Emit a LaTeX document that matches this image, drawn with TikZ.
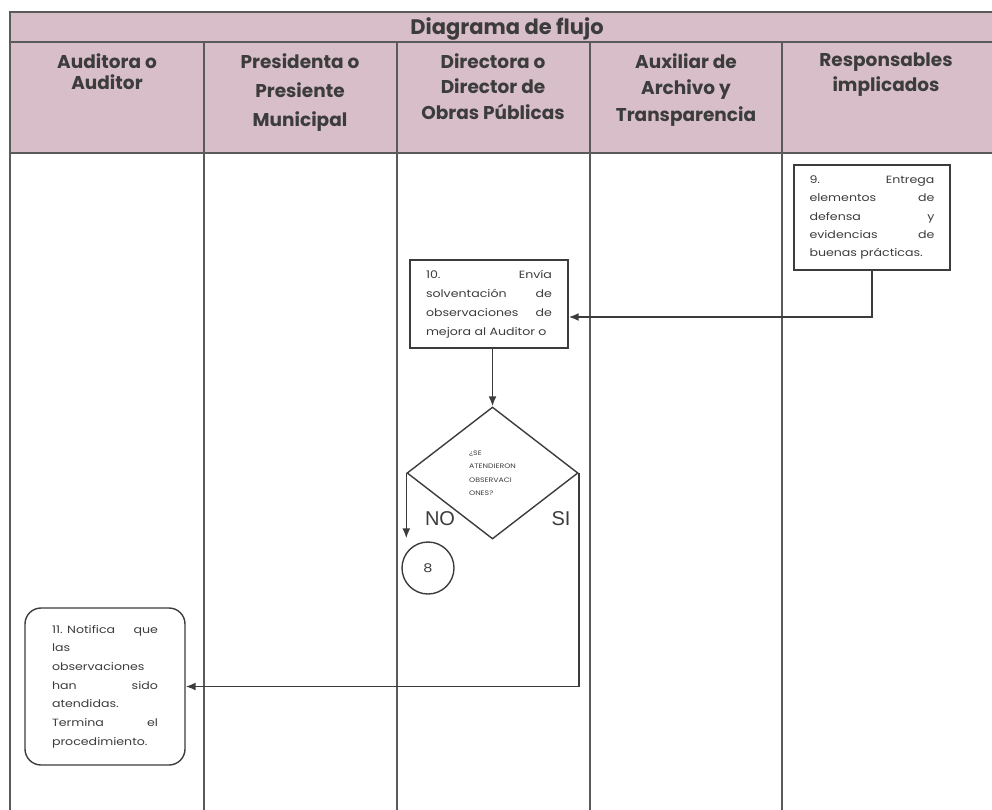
\documentclass[tikz,border=0pt]{standalone}
\usepackage{fontspec}
\setmainfont{Poppins}
\newfontfamily\boxfont{Poppins}[FakeStretch=1.2]
\newfontfamily\lblfont{Liberation Sans}
\usetikzlibrary{shapes.geometric,arrows.meta,calc}
\definecolor{hdr}{RGB}{215,190,200}
\definecolor{ln}{RGB}{90,90,90}
\definecolor{bx}{RGB}{60,60,60}
\definecolor{tx}{RGB}{60,60,60}
\tikzset{
  lane/.style={draw=ln,line width=1.2pt},
  hdrtext/.style={text=tx,align=center,anchor=north,inner sep=0pt},
  proc/.style={draw=bx,line width=1.4pt,text=tx,inner sep=0pt,align=justify},
  flow/.style={draw=bx,line width=1.6pt,-{Latex[length=10pt,width=8pt]}},
  lbl/.style={text=tx,font=\lblfont\fontsize{20}{20}\selectfont,inner sep=0pt}
}
\begin{document}
\begin{tikzpicture}[x=1pt,y=-1pt]
\useasboundingbox (0,0) rectangle (992,810);
% header fill
\fill[hdr] (10,12) rectangle (992,153);
% table lines
\draw[lane] (992,12) -- (10,12) -- (10,810);
\draw[lane] (10,42) -- (992,42);
\draw[lane] (10,153) -- (992,153);
\foreach \x in {204,397,590,782} \draw[lane] (\x,42) -- (\x,810);
% title
\node[text=tx,inner sep=0pt,font=\fontsize{21}{24}\selectfont\bfseries] (title) at (507,29) {Diagrama de flujo};
% column heads
\node[hdrtext,font=\fontsize{18.5}{21}\selectfont\bfseries] (h1) at (107,53) {Auditora o\\Auditor};
\node[hdrtext,font=\fontsize{18.5}{29}\selectfont\bfseries] (h2) at (300,53) {Presidenta o\\Presiente\\Municipal};
\node[hdrtext,font=\fontsize{18.5}{25.5}\selectfont\bfseries] (h3) at (493,53) {Directora o\\Director de\\Obras Públicas};
\node[hdrtext,font=\fontsize{18.5}{26.5}\selectfont\bfseries] (h4) at (686,53) {Auxiliar de\\Archivo y\\Transparencia};
\node[hdrtext,font=\fontsize{18.5}{25}\selectfont\bfseries] (h5) at (886,53) {Responsables\\implicados};
% box 9
\node[proc,minimum width=156pt,minimum height=105pt,text width=125pt,font=\boxfont\fontsize{10.5}{18.3}\selectfont] (b9) at (872,217.5)
 {9.\hfill Entrega\\elementos\hfill de\\defensa\hfill y\\evidencias\hfill de\\buenas prácticas.};
% box 10
\node[proc,minimum width=158pt,minimum height=88pt,text width=126pt,font=\boxfont\fontsize{10.5}{19}\selectfont] (b10) at (489,304)
 {10.\hfill Envía\\solventación\hfill de\\observaciones\hfill de\\mejora al Auditor o};
% decision
\node[draw=bx,line width=1.4pt,diamond,minimum width=171pt,minimum height=132pt,inner sep=0pt,text=tx,align=left,font=\boxfont\fontsize{6.5}{13.5}\selectfont] (d) at (492.5,473)
 {¿SE\\ATENDIERON\\OBSERVACI\\ONES?};
% connector circle
\node[draw=bx,line width=1.4pt,circle,minimum size=52pt,inner sep=0pt,text=tx,font=\boxfont\fontsize{12}{12}\selectfont] (c8) at (428,568) {8};
% box 11
\node[proc,rounded corners=16pt,minimum width=160pt,minimum height=157pt,text width=106pt,font=\boxfont\fontsize{10.5}{18.7}\selectfont] (b11) at (105,686.5)
 {11. Notifica\hfill que\\las\\observaciones\\han\hfill sido\\atendidas.\\Termina\hfill el\\procedimiento.};
% labels
\node[lbl] (no) at (440,519) {NO};
\node[lbl] (si) at (561,519) {SI};
% connectors
\coordinate (in10) at ($(b10.east)+(0,13)$);
\draw[flow] (b9.south) -- (b9.south |- in10) -- (in10);
\draw[flow] (b10.south -| d.north) -- (d.north);
\coordinate (noend) at ($(d.west |- c8.north)+(0,-3)$);
\draw[flow] (d.west) -- (noend);
\draw[flow] (d.east) -- (d.east |- b11.east) -- (b11.east);
\end{tikzpicture}
\end{document}
